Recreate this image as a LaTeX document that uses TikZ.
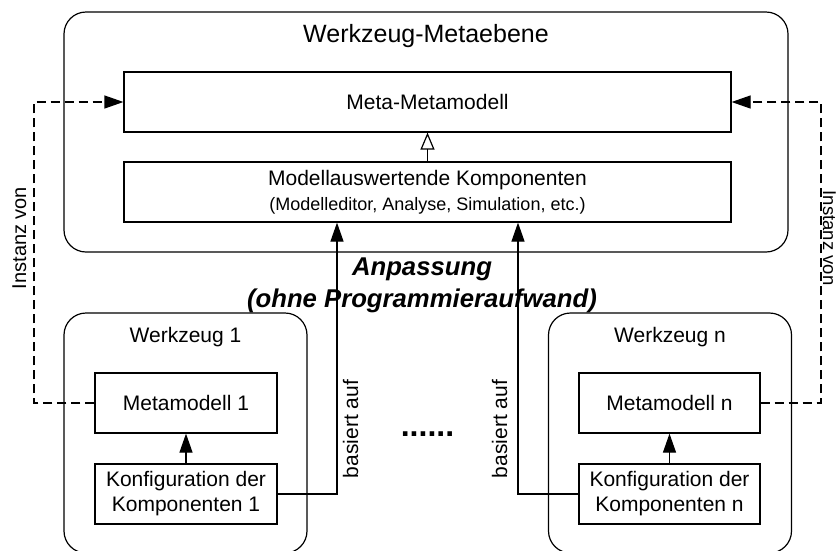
\documentclass[tikz,border=0pt]{standalone}
\usepackage{fontspec}
\setmainfont{Liberation Sans}
\usetikzlibrary{arrows.meta}
\begin{document}
\begin{tikzpicture}[x=1pt,y=-1pt,
  line width=1.2pt,
  box/.style={draw,rectangle,inner sep=0pt,align=center,font=\fontsize{21}{25}\selectfont},
  frame/.style={draw,rectangle,rounded corners=22pt,inner sep=0pt,minimum width=243pt,minimum height=240pt},
  lbl/.style={inner sep=0pt,anchor=base},
  arr/.style={-{Triangle[length=19pt,width=13pt]}},
  gen/.style={-{Triangle[open,length=17pt,width=14pt]}},
  dsh/.style={dash pattern=on 9pt off 5pt}]
\useasboundingbox (0,0) rectangle (836,550);

% Werkzeug-Metaebene
\node[draw,rectangle,rounded corners=22pt,inner sep=0pt,minimum width=724pt,minimum height=240pt] (meta) at (426,132) {};
\node[lbl,font=\fontsize{25}{30}\selectfont] (metatitle) at (426,42) {Werkzeug-Metaebene};
\node[box,minimum width=607pt,minimum height=60pt] (mm) at (427.5,102) {Meta-Metamodell};
\node[box,minimum width=607pt,minimum height=60pt] (ma) at (427.5,192)
  {\fontsize{21}{29}\selectfont Modellauswertende Komponenten\\
   \fontsize{18}{29}\selectfont (Modelleditor, Analyse, Simulation, etc.)};
\draw[gen] (ma) -- (mm);

% Werkzeug 1
\node[frame] (w1) at (185.5,433) {};
\node[lbl,font=\fontsize{21}{25}\selectfont] (w1title) at (185.5,342) {Werkzeug 1};
\node[box,minimum width=182pt,minimum height=60pt] (mm1) at (186,403) {Metamodell 1};
\node[box,minimum width=182pt,minimum height=60pt] (k1) at (186,494) {Konfiguration der\\Komponenten 1};
\draw[arr] (k1) -- (mm1);

% Werkzeug n
\node[frame] (wn) at (670,433) {};
\node[lbl,font=\fontsize{21}{25}\selectfont] (wntitle) at (670,342) {Werkzeug n};
\node[box,minimum width=181pt,minimum height=60pt] (mmn) at (669.5,403) {Metamodell n};
\node[box,minimum width=181pt,minimum height=60pt] (kn) at (669.5,494) {Konfiguration der\\Komponenten n};
\draw[arr] (kn) -- (mmn);

% "basiert auf" connectors
\coordinate (b1) at (337,494);
\coordinate (bn) at (518,494);
\draw[arr] (k1.east) -- (b1) -- (b1 |- ma.south);
\draw[arr] (kn.west) -- (bn) -- (bn |- ma.south);
\node[lbl,rotate=90,font=\fontsize{21}{25}\selectfont] (lb1) at (358,429) {basiert auf};
\node[lbl,rotate=90,font=\fontsize{21}{25}\selectfont] (lbn) at (507,429) {basiert auf};

% "Instanz von" connectors
\coordinate (dl) at (34,250);
\coordinate (dr) at (821,250);
\draw[dsh,arr] (mm1.west) -| (dl) |- (mm.west);
\draw[dsh,arr] (mmn.east) -| (dr) |- (mm.east);
\node[lbl,rotate=90,font=\fontsize{20}{24}\selectfont] (il) at (26,238) {Instanz von};
\node[lbl,rotate=-90,font=\fontsize{18.5}{22}\selectfont] (ir) at (823,238) {Instanz von};

% Anpassung
\node[lbl,font=\bfseries\itshape\fontsize{25.7}{32}\selectfont] (anp1) at (422,275) {Anpassung};
\node[lbl,font=\bfseries\itshape\fontsize{25.7}{32}\selectfont] (anp2) at (422,307) {(ohne Programmieraufwand)};

% dots between the tools
\node[lbl,font=\bfseries\fontsize{32}{32}\selectfont] (dots) at (427.5,436.5) {......};
\end{tikzpicture}
\end{document}
